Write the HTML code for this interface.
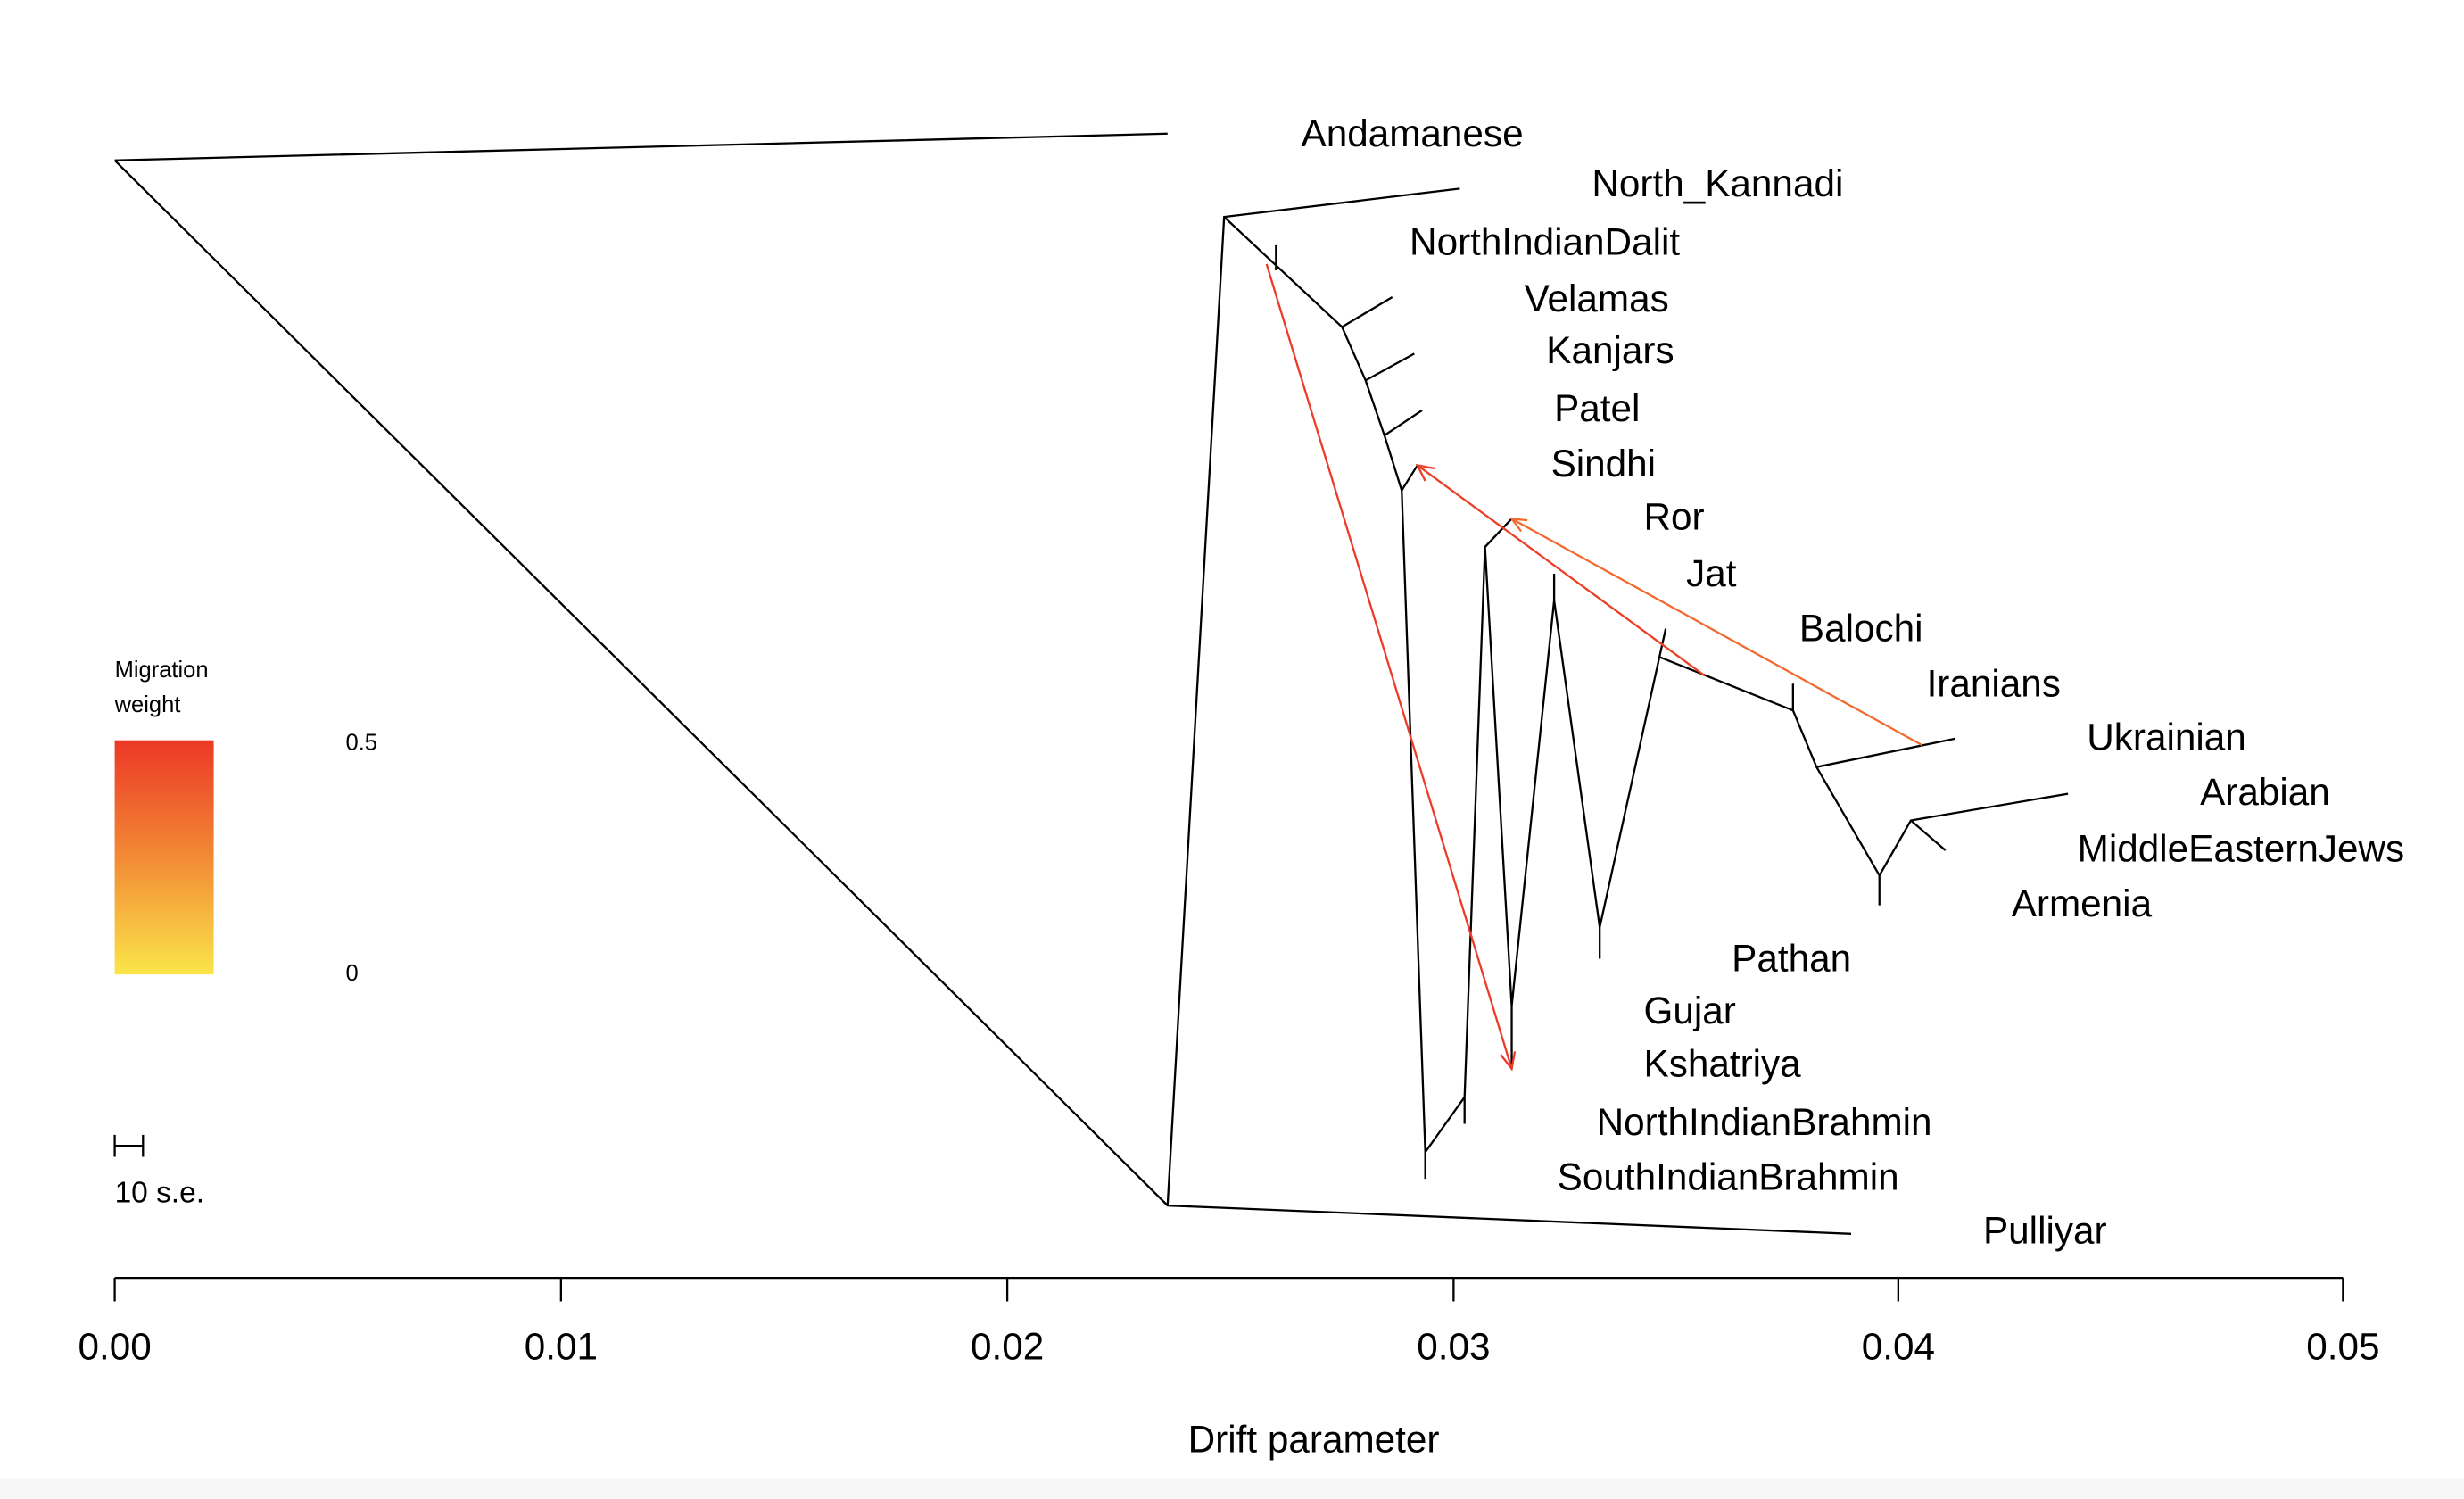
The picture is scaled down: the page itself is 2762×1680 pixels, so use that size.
<!DOCTYPE html>
<html><head><meta charset="utf-8"><style>html,body{margin:0;padding:0;background:#fff}svg{display:block}text{font-family:"Liberation Sans",sans-serif;fill:#000}</style></head>
<body>
<svg width="2762" height="1680" viewBox="0 0 1568 953.7" xmlns="http://www.w3.org/2000/svg">
<defs><linearGradient id="g" x1="0" y1="0" x2="0" y2="1"><stop offset="0" stop-color="#ec3826"/><stop offset="0.5" stop-color="#f28a35"/><stop offset="1" stop-color="#fbe54a"/></linearGradient></defs>
<rect x="0" y="941" width="1568" height="13" fill="#f7f7f7"/>
<g stroke="#000" stroke-width="1.3" fill="none">
<path d="M73,102L743,85M73,102L743,767L1178,785M743,767L779,138L929,120M779,138L854,208L886,189M812,156V172M854,208L869,242L900,225M869,242L881,277L905,261M881,277L892,312L902,296M892,312L907,733V750M907,733L932,698V715M932,698L945,348L962,330M945,348L962,640V680M962,640L989,382V365M989,382L1018,590V610M1018,590L1056,418L1060,400M1056,418L1141,452V435M1141,452L1156,488L1244,470M1156,488L1196,557V576M1196,557L1216,522L1316,505M1216,522L1238,541"/>
<path d="M73,813H1491M73,813V828M357,813V828M641,813V828M925,813V828M1208,813V828M1491,813V828"/>
<path d="M73,729H91M73,722V736M91,722V736"/>
</g>
<g fill="none" stroke-width="1.3">
<path d="M806,168L962,680M955,671L962,680L964,669" stroke="#ee3a27"/>
<path d="M1085,430L902,296M913,298L902,296L907,306" stroke="#ec3f28"/>
<path d="M1223,474L962,330M972,331L962,330L968,338" stroke="#f26a30"/>
</g>
<rect x="73" y="471" width="63" height="149" fill="url(#g)"/>
<g font-size="14.5"><text x="73" y="431">Migration</text><text x="73" y="453">weight</text><text x="220" y="477">0.5</text><text x="220" y="624">0</text></g>
<text x="73" y="765" font-size="19">10 s.e.</text>
<g font-size="24">
<text x="828" y="93">Andamanese</text><text x="1013" y="125">North_Kannadi</text><text x="897" y="162">NorthIndianDalit</text><text x="970" y="198">Velamas</text><text x="984" y="231">Kanjars</text><text x="989" y="268">Patel</text><text x="987" y="303">Sindhi</text><text x="1046" y="337">Ror</text><text x="1073" y="373">Jat</text><text x="1145" y="408">Balochi</text><text x="1226" y="443">Iranians</text><text x="1328" y="477">Ukrainian</text><text x="1400" y="512">Arabian</text><text x="1322" y="548">MiddleEasternJews</text><text x="1280" y="583">Armenia</text><text x="1102" y="618">Pathan</text><text x="1046" y="651">Gujar</text><text x="1046" y="685">Kshatriya</text><text x="1016" y="722">NorthIndianBrahmin</text><text x="991" y="757">SouthIndianBrahmin</text><text x="1262" y="791">Pulliyar</text>
</g>
<g font-size="24" text-anchor="middle"><text x="73" y="865">0.00</text><text x="357" y="865">0.01</text><text x="641" y="865">0.02</text><text x="925" y="865">0.03</text><text x="1208" y="865">0.04</text><text x="1491" y="865">0.05</text><text x="836" y="924">Drift parameter</text></g>
</svg>
</body></html>
